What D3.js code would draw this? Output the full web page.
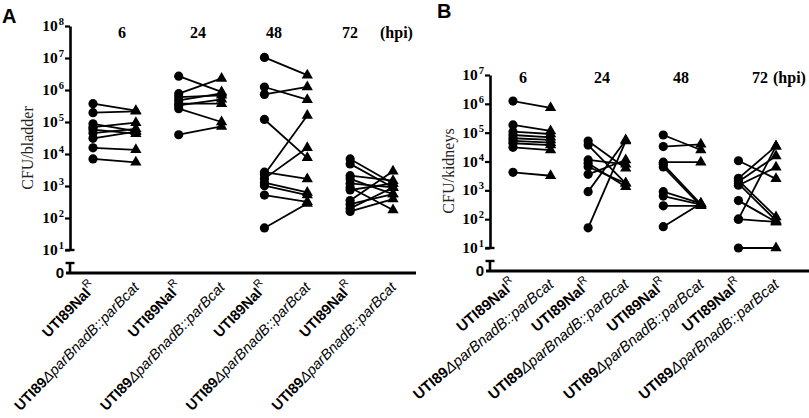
<!DOCTYPE html>
<html><head><meta charset="utf-8">
<script src="https://cdn.jsdelivr.net/npm/d3@7"></script>
<style>body{margin:0;background:#fff}svg{display:block}</style>
</head><body><svg id="c" width="809" height="418"></svg>
<script>
// ---------- data ----------
const groups = ["6", "24", "48", "72"];
const strainNal = "UTI89Nal";
const strainMut = "ΔparBnadB::parBcat";
const panelLetters = ["A", "B"];
const yTitles = ["CFU/bladder", "CFU/kidneys"];

// bladder (panel A): paired values, Nal (circle) -> mutant (triangle)
const bladderNal6  = [3.75e5, 1.95e5, 8.8e4, 6.9e4, 5.8e4, 4.5e4, 3.1e4, 1.56e4, 7e3];
const bladderMut6  = [2.25e5, 2.15e5, 5.2e4, 9.5e4, 4.3e4, 6.1e4, 5.0e4, 1.35e4, 5.5e3];
const bladderNal24 = [2.7e6, 7.7e5, 6.0e5, 4.75e5, 3.75e5, 3.3e5, 2.6e5, 4.0e4];
const bladderMut24 = [8.7e5, 2.3e6, 6.8e5, 7.9e5, 3.75e5, 5.1e5, 1.0e5, 7.3e4];
const bladderNal48 = [1.04e7, 1.24e6, 7.3e5, 1.2e5, 2.3e3, 1.7e3, 2.7e3, 1.27e3, 1.02e3, 5.2e2, 49];
const bladderMut48 = [2.9e6, 5.0e5, 1.25e6, 7.6e3, 1.6e5, 1.56e4, 1.66e3, 6.3e2, 5.2e2, 3.2e2, 2.85e2];
const bladderNal72 = [7e3, 4.9e3, 2.1e3, 1.66e3, 1.2e3, 9e2, 7.5e2, 3.5e2, 2.7e2, 2e2, 1.6e2];
const bladderMut72 = [1.2e3, 9e2, 1.47e3, 5.6e2, 9e2, 1.77e2, 1.2e3, 2.9e3, 5.6e2, 9e2, 3.9e2];

// kidneys (panel B)
const kidneyNal6  = [1.25e6, 1.85e5, 1.08e5, 8.3e4, 6.4e4, 5.2e4, 4.3e4, 3.1e4, 4.2e3];
const kidneyMut6  = [7.3e5, 1.15e5, 9e4, 6.9e4, 5.6e4, 4.5e4, 3.7e4, 2.5e4, 3.2e3];
const kidneyNal24 = [5.1e4, 3.7e4, 1.13e4, 8.7e3, 6.6e3, 3.6e3, 9e2, 50];
const kidneyMut24 = [5.8e3, 1.75e3, 8e3, 1.34e3, 1.75e3, 1.13e4, 5.6e4, 5.1e4];
const kidneyNal48 = [8.3e4, 3.3e4, 9.5e3, 8e3, 6.5e3, 9e2, 6.3e2, 2.9e2, 55];
const kidneyMut48 = [2.5e4, 3.95e4, 9.5e3, 3.35e2, 2.9e2, 3.5e2, 3.2e2, 2.9e2, 3.5e2];
const kidneyNal72 = [1.06e4, 2.6e3, 2e3, 1.5e3, 2.2e3, 1.7e3, 4.4e2, 1e2, 1e2, 10];
const kidneyMut72 = [2.5e3, 3.4e4, 1.55e4, 6.3e3, 1.2e2, 9e1, 8e1, 3.4e4, 8e1, 10];

const bladderTicks = [1e1, 1e2, 1e3, 1e4, 1e5, 1e6, 1e7, 1e8];
const kidneyTicks  = [1e1, 1e2, 1e3, 1e4, 1e5, 1e6, 1e7];

// ---------- drawing ----------
const svg = d3.select("#c");
const serif = "'Liberation Serif','Times New Roman',serif";
const sans = "'Liberation Sans',Arial,sans-serif";

const panels = [
  { letter: panelLetters[0], letterX: 2, letterY: 23, title: yTitles[0], titleX: 27, titleY: 148,
    axisX: 70, yTop: 26, yBottom: 250, zeroY: 273, xEnd: 416, catRange: [93, 393],
    ticks: bladderTicks, labelY: 38, glabRange: [122, 350], hpiX: 380, rot: -46, catFont: 14.5,
    pairs: [[bladderNal6, bladderMut6], [bladderNal24, bladderMut24], [bladderNal48, bladderMut48], [bladderNal72, bladderMut72]] },
  { letter: panelLetters[1], letterX: 437, letterY: 18, title: yTitles[1], titleX: 448, titleY: 171,
    axisX: 490, yTop: 75, yBottom: 248, zeroY: 271, xEnd: 809, catRange: [513, 776],
    ticks: kidneyTicks, labelY: 83, glabRange: [523, 760], hpiX: 773, rot: -40, catFont: 15,
    pairs: [[kidneyNal6, kidneyMut6], [kidneyNal24, kidneyMut24], [kidneyNal48, kidneyMut48], [kidneyNal72, kidneyMut72]] }
];

const cats = [];
groups.forEach(g => { cats.push(g + "|Nal"); cats.push(g + "|Mut"); });

panels.forEach(p => {
  const g = svg.append("g");
  const y = d3.scaleLog().domain([p.ticks[0], p.ticks[p.ticks.length - 1]]).range([p.yBottom, p.yTop]);
  const x = d3.scalePoint().domain(cats).range(p.catRange);
  const gx = d3.scalePoint().domain(groups).range(p.glabRange);

  // panel letter
  g.append("text").attr("x", p.letterX).attr("y", p.letterY)
    .attr("font-family", sans).attr("font-weight", "bold").attr("font-size", 20).text(p.letter);

  // y title
  g.append("text").attr("transform", `translate(${p.titleX},${p.titleY}) rotate(-90)`)
    .attr("text-anchor", "middle").attr("dominant-baseline", "central")
    .attr("font-family", serif).attr("font-size", 16).attr("fill", "#222").text(p.title);

  // y axis
  const ax = g.append("g").attr("transform", `translate(${p.axisX},0)`)
    .call(d3.axisLeft(y).tickValues(p.ticks).tickFormat(() => "").tickSize(5).tickSizeOuter(0));
  ax.select(".domain").attr("stroke", "#000").attr("stroke-width", 2.6);
  ax.selectAll(".tick line").attr("stroke", "#000").attr("stroke-width", 2.2);
  ax.selectAll(".tick text").remove();
  // tick labels
  p.ticks.forEach(t => {
    const tx = g.append("text").attr("x", p.axisX - 6).attr("y", y(t) + 5)
      .attr("text-anchor", "end").attr("font-family", serif).attr("font-weight", "bold").attr("font-size", 15.5);
    tx.append("tspan").text("10");
    tx.append("tspan").attr("dx", 1).attr("dy", -6).attr("font-size", 10.5).text(Math.round(Math.log10(t)));
  });
  // break caps
  const cap = 4.5;
  g.append("line").attr("x1", p.axisX - cap).attr("x2", p.axisX + cap).attr("y1", p.yBottom).attr("y2", p.yBottom)
    .attr("stroke", "#000").attr("stroke-width", 2.4);
  const y2top = p.yBottom + 13;
  g.append("line").attr("x1", p.axisX - cap).attr("x2", p.axisX + cap).attr("y1", y2top).attr("y2", y2top)
    .attr("stroke", "#000").attr("stroke-width", 2.4);
  g.append("line").attr("x1", p.axisX).attr("x2", p.axisX).attr("y1", y2top).attr("y2", p.zeroY)
    .attr("stroke", "#000").attr("stroke-width", 2.6);
  g.append("line").attr("x1", p.axisX - 4).attr("x2", p.xEnd).attr("y1", p.zeroY).attr("y2", p.zeroY)
    .attr("stroke", "#000").attr("stroke-width", 3);
  g.append("text").attr("x", p.axisX - 6).attr("y", p.zeroY + 5).attr("text-anchor", "end")
    .attr("font-family", sans).attr("font-weight", "bold").attr("font-size", 15).text("0");

  // group labels
  groups.forEach(gr => {
    g.append("text").attr("x", gx(gr)).attr("y", p.labelY).attr("text-anchor", "middle")
      .attr("font-family", serif).attr("font-weight", "bold").attr("font-size", 16).text(gr);
  });
  g.append("text").attr("x", p.hpiX).attr("y", p.labelY)
    .attr("font-family", serif).attr("font-weight", "bold").attr("font-size", 16).text("(hpi)");

  // paired lines and markers
  p.pairs.forEach((pr, gi) => {
    const [nal, mut] = pr;
    const xa = x(groups[gi] + "|Nal"), xb = x(groups[gi] + "|Mut");
    const pts = nal.map((v, i) => ({ a: v, b: mut[i] }));
    g.selectAll(null).data(pts).enter().append("line")
      .attr("x1", xa).attr("x2", xb).attr("y1", d => y(d.a)).attr("y2", d => y(d.b))
      .attr("stroke", "#000").attr("stroke-width", 1.8);
    g.selectAll(null).data(pts).enter().append("circle")
      .attr("cx", xa).attr("cy", d => y(d.a)).attr("r", 4.6).attr("fill", "#000");
    g.selectAll(null).data(pts).enter().append("path")
      .attr("d", d3.symbol().type(d3.symbolTriangle).size(55))
      .attr("transform", d => `translate(${xb},${y(d.b)})`).attr("fill", "#000");
  });

  // category labels
  cats.forEach(c => {
    const cx = x(c);
    const t = g.append("text").attr("transform", `translate(${cx + 4},${p.zeroY + 15}) rotate(${p.rot})`)
      .attr("text-anchor", "end").attr("font-family", sans).attr("font-size", p.catFont).attr("fill", "#000");
    if (c.endsWith("Nal")) {
      t.append("tspan").attr("font-weight", "bold").text(strainNal);
      t.append("tspan").attr("dy", -7).attr("font-size", 11).text("R");
    } else {
      t.append("tspan").attr("font-weight", "bold").text("UTI89");
      t.append("tspan").attr("font-style", "italic").text(strainMut);
    }
  });
});
</script>
</body></html>
